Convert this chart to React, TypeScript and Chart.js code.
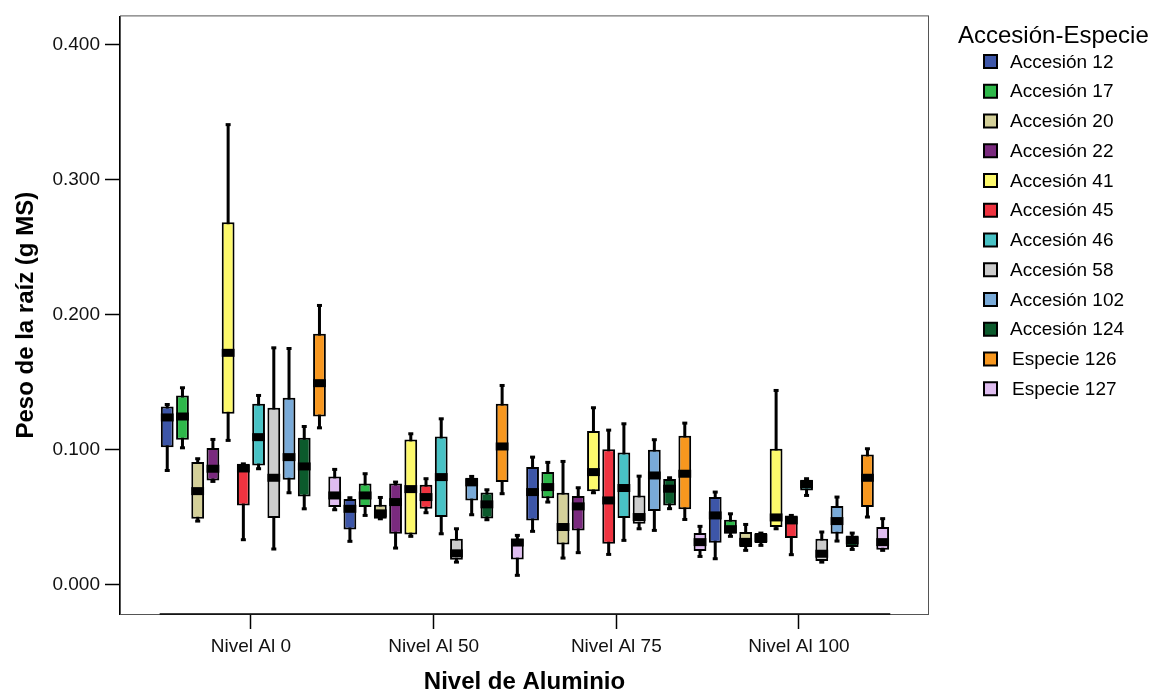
import { useEffect, useRef } from 'react';
import { Chart, registerables } from 'chart.js';

Chart.register(...registerables);

const FONT = "'Liberation Sans', Arial, Helvetica, sans-serif";

const levels = ['Nivel Al 0', 'Nivel Al 50', 'Nivel Al 75', 'Nivel Al 100'];
const seriesNames = [
  'Accesión 12', 'Accesión 17', 'Accesión 20', 'Accesión 22', 'Accesión 41', 'Accesión 45',
  'Accesión 46', 'Accesión 58', 'Accesión 102', 'Accesión 124', 'Especie 126', 'Especie 127',
];
const seriesColors = [
  '#3d56a8', '#2eb84a', '#d4d099', '#7a2a7e', '#fdf96c', '#ef3340',
  '#48c2c5', '#cccccc', '#79aad8', '#0b5a2c', '#f7971f', '#dfbdf0',
];
const yTicks = [0, 0.1, 0.2, 0.3, 0.4];

// per level: [min, q1, median, q3, max]
const acc12 = [[0.0844, 0.1017, 0.1237, 0.1319, 0.1333], [0.0319, 0.0407, 0.056, 0.0632, 0.0642], [0.0393, 0.0474, 0.0684, 0.0869, 0.0943], [0.019, 0.0309, 0.0511, 0.0647, 0.0684]];
const acc17 = [[0.1012, 0.1072, 0.1244, 0.14, 0.1457], [0.0511, 0.0573, 0.0659, 0.0748, 0.082], [0.061, 0.0639, 0.0721, 0.0832, 0.0904], [0.0356, 0.0375, 0.0409, 0.0479, 0.0523]];
const acc20 = [[0.0469, 0.0486, 0.0691, 0.0906, 0.0931], [0.0486, 0.0486, 0.0526, 0.059, 0.0644], [0.0195, 0.0296, 0.0425, 0.0679, 0.0911], [0.0252, 0.0277, 0.0315, 0.0388, 0.0444]];
const acc22 = [[0.0763, 0.077, 0.0857, 0.101, 0.1074], [0.0269, 0.0375, 0.061, 0.0748, 0.0758], [0.0235, 0.04, 0.0578, 0.0654, 0.0716], [0.0289, 0.0306, 0.0343, 0.038, 0.038]];
const acc41 = [[0.1067, 0.1264, 0.1716, 0.2684, 0.3407], [0.0356, 0.037, 0.0706, 0.1074, 0.1116], [0.0679, 0.0691, 0.0832, 0.1136, 0.1309], [0.0412, 0.0425, 0.0496, 0.1005, 0.1437]];
const acc45 = [[0.0331, 0.0585, 0.0859, 0.0893, 0.0893], [0.0531, 0.0561, 0.0647, 0.0738, 0.0783], [0.0222, 0.0301, 0.0622, 0.1002, 0.1143], [0.022, 0.0343, 0.0474, 0.0511, 0.0511]];
const acc46 = [[0.0857, 0.0881, 0.1091, 0.1338, 0.14], [0.0375, 0.0499, 0.0795, 0.1096, 0.1227], [0.0326, 0.0491, 0.0714, 0.0978, 0.119], [0.0659, 0.0696, 0.0741, 0.0776, 0.0783]];
const acc58 = [[0.0262, 0.0491, 0.079, 0.1309, 0.1753], [0.0165, 0.0183, 0.023, 0.0338, 0.0412], [0.0412, 0.045, 0.0499, 0.0659, 0.0802], [0.0165, 0.0173, 0.0227, 0.0338, 0.0388]];
const acc102 = [[0.0679, 0.0775, 0.0943, 0.1383, 0.1748], [0.0516, 0.0622, 0.0756, 0.079, 0.08], [0.04, 0.0543, 0.0807, 0.0998, 0.1072], [0.0321, 0.0375, 0.0469, 0.058, 0.0647]];
const acc124 = [[0.056, 0.0652, 0.0874, 0.1086, 0.117], [0.0479, 0.0489, 0.0593, 0.0681, 0.0701], [0.0561, 0.0585, 0.0709, 0.078, 0.079], [0.0259, 0.0277, 0.0326, 0.0363, 0.038]];
const esp126 = [[0.116, 0.1244, 0.1491, 0.1857, 0.2067], [0.0672, 0.0758, 0.1022, 0.1338, 0.1474], [0.0481, 0.0556, 0.082, 0.1101, 0.1195], [0.0499, 0.0573, 0.079, 0.0963, 0.1005]];
const esp127 = [[0.0553, 0.0573, 0.0659, 0.08, 0.0852], [0.0067, 0.0185, 0.031, 0.0338, 0.0363], [0.0207, 0.0247, 0.0313, 0.038, 0.043], [0.0252, 0.0257, 0.0313, 0.0425, 0.0487]];

const allSeries = [acc12, acc17, acc20, acc22, acc41, acc45, acc46, acc58, acc102, acc124, esp126, esp127];

const boxPlugin = {
  id: 'boxExtras',
  beforeDatasetsDraw(chart: any) {
    const ctx = chart.ctx;
    const ys = chart.scales.y;
    ctx.save();
    ctx.fillStyle = '#000';
    chart.data.datasets.forEach((_ds: any, d: number) => {
      const meta = chart.getDatasetMeta(d);
      meta.data.forEach((bar: any, i: number) => {
        const s = allSeries[d][i];
        const yTop = ys.getPixelForValue(s[4]);
        const yBot = ys.getPixelForValue(s[0]);
        ctx.fillRect(bar.x - 1.5, yTop, 3, yBot - yTop);
        ctx.fillRect(bar.x - 2.5, yTop - 1.5, 5, 3);
        ctx.fillRect(bar.x - 2.5, yBot - 1.5, 5, 3);
      });
    });
    ctx.restore();
  },
  afterDatasetsDraw(chart: any) {
    const ctx = chart.ctx;
    const ys = chart.scales.y;
    ctx.save();
    ctx.fillStyle = '#000';
    chart.data.datasets.forEach((_ds: any, d: number) => {
      const meta = chart.getDatasetMeta(d);
      meta.data.forEach((bar: any, i: number) => {
        const s = allSeries[d][i];
        const ym = ys.getPixelForValue(s[2]);
        ctx.fillRect(bar.x - bar.width / 2, ym - 4, bar.width, 8);
      });
    });
    ctx.restore();
  },
  afterDraw(chart: any) {
    const ctx = chart.ctx;
    const { left, right, top, bottom } = chart.chartArea;
    const xs = chart.scales.x;
    ctx.save();
    // frame
    ctx.strokeStyle = '#555';
    ctx.lineWidth = 1;
    ctx.strokeRect(left + 0.5, top - 0.5, right - left - 1, bottom - top + 1);
    // x axis line over category range
    ctx.strokeStyle = '#000';
    ctx.lineWidth = 1.5;
    ctx.beginPath();
    ctx.moveTo(xs.getPixelForValue(-0.5), bottom);
    ctx.lineTo(xs.getPixelForValue(levels.length - 0.5), bottom);
    ctx.stroke();
    // legend
    ctx.fillStyle = '#000';
    ctx.textBaseline = 'middle';
    ctx.textAlign = 'left';
    ctx.font = `24px ${FONT}`;
    ctx.fillText('Accesión-Especie', 958, 36);
    ctx.font = `19px ${FONT}`;
    seriesNames.forEach((name, i) => {
      const cy = 62 + i * 29.75;
      ctx.fillStyle = seriesColors[i];
      ctx.fillRect(984, cy - 7, 13, 13);
      ctx.strokeStyle = '#000';
      ctx.lineWidth = 2;
      ctx.strokeRect(984, cy - 7, 13, 13);
      ctx.fillStyle = '#000';
      ctx.fillText(name, name.startsWith('Especie') ? 1012 : 1010, cy + 0.5);
    });
    ctx.restore();
  },
};

export default function App() {
  const ref = useRef<HTMLCanvasElement>(null);
  useEffect(() => {
    document.body.style.margin = '0';
    const canvas = ref.current;
    if (!canvas) return;
    const chart = new Chart(canvas, {
      type: 'bar',
      data: {
        datasets: allSeries.map((series, d) => ({
          label: seriesNames[d],
          data: series.map((s, i) => ({ x: i, y: [s[1], s[3]] })),
          backgroundColor: seriesColors[d],
          borderColor: '#000',
          borderWidth: 2,
          borderSkipped: false,
          barPercentage: 0.84,
          categoryPercentage: 1.0,
        })) as any,
      },
      options: {
        animation: false,
        responsive: false,
        events: [],
        layout: { padding: { top: 15, right: 226, left: 0, bottom: 0 } },
        plugins: { legend: { display: false }, tooltip: { enabled: false } },
        scales: {
          x: {
            type: 'linear',
            min: -0.717,
            max: 3.712,
            offset: false,
            afterFit: (s: any) => { s.height = 80; },
            afterBuildTicks: (s: any) => { s.ticks = levels.map((_, i) => ({ value: i })); },
            ticks: {
              callback: (v: any) => levels[v] ?? '',
              autoSkip: false,
              maxRotation: 0,
              font: { family: FONT, size: 19 },
              color: '#111',
              padding: 6,
            },
            grid: { drawOnChartArea: false, offset: false, tickLength: 15, tickWidth: 1.5, tickColor: '#000' },
            border: { display: false },
            title: {
              display: true,
              text: 'Nivel de Aluminio',
              font: { family: FONT, size: 24, weight: 'bold', lineHeight: 1 },
              color: '#000',
              padding: { top: 0, bottom: 0 },
            },
          },
          y: {
            type: 'linear',
            min: -0.02196,
            max: 0.42092,
            afterFit: (s: any) => { s.width = 120; },
            afterBuildTicks: (s: any) => { s.ticks = yTicks.map((v) => ({ value: v })); },
            ticks: {
              callback: (v: any) => Number(v).toFixed(3),
              font: { family: FONT, size: 19 },
              color: '#111',
              padding: 5,
            },
            grid: { drawOnChartArea: false, tickLength: 15, tickWidth: 1.5, tickColor: '#000' },
            border: { display: true, color: '#000', width: 1.5 },
            title: {
              display: true,
              text: 'Peso de la raíz (g MS)',
              font: { family: FONT, size: 24, weight: 'bold', lineHeight: 1 },
              color: '#000',
              padding: { top: 14, bottom: 0 },
            },
          },
        },
      } as any,
      plugins: [boxPlugin],
    });
    return () => chart.destroy();
  }, []);
  return <canvas ref={ref} width={1155} height={694} style={{ display: 'block' }} />;
}
